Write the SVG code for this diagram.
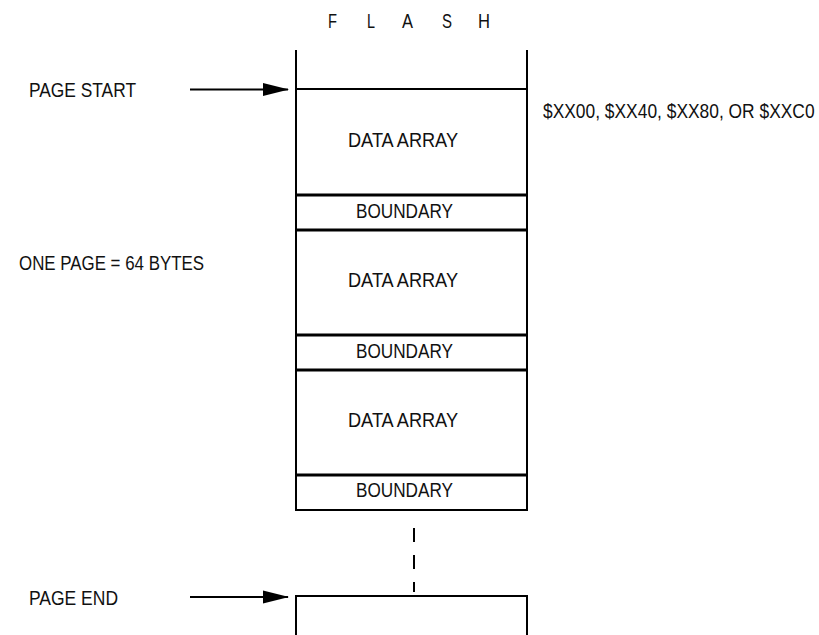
<svg xmlns="http://www.w3.org/2000/svg" width="819" height="635" viewBox="0 0 819 635">
<style>
text{font-family:"Liberation Sans",Arial,sans-serif;font-size:20px;fill:#111}
.ln{stroke:#000;stroke-width:2;fill:none}
.th{stroke:#000;stroke-width:3;fill:none}
</style>
<defs>
<marker id="ah" markerWidth="26" markerHeight="14" refX="25" refY="7" orient="auto" markerUnits="userSpaceOnUse">
<path d="M0,0.5 L26,7 L0,13.5 Z" fill="#000"/>
</marker>
</defs>
<rect width="819" height="635" fill="#fff"/>
<g id="flash-title">
<text x="328" y="28" textLength="9" lengthAdjust="spacingAndGlyphs">F</text>
<text x="367" y="28" textLength="8" lengthAdjust="spacingAndGlyphs">L</text>
<text x="402" y="28" textLength="11" lengthAdjust="spacingAndGlyphs">A</text>
<text x="442" y="28" textLength="10" lengthAdjust="spacingAndGlyphs">S</text>
<text x="478" y="28" textLength="12" lengthAdjust="spacingAndGlyphs">H</text>
</g>
<g id="memory-column">
<line class="ln" x1="296" y1="50" x2="296" y2="511"/>
<line class="ln" x1="527" y1="50" x2="527" y2="511"/>
<line class="ln" x1="296" y1="89" x2="527" y2="89"/>
</g>
<g id="data1"><text x="348" y="147" textLength="110" lengthAdjust="spacingAndGlyphs">DATA ARRAY</text></g>
<g id="boundary1">
<line class="th" x1="296" y1="195" x2="527" y2="195"/>
<line class="th" x1="296" y1="230" x2="527" y2="230"/>
<text x="356" y="218" textLength="97" lengthAdjust="spacingAndGlyphs">BOUNDARY</text>
</g>
<g id="data2"><text x="348" y="287" textLength="110" lengthAdjust="spacingAndGlyphs">DATA ARRAY</text></g>
<g id="boundary2">
<line class="th" x1="296" y1="335" x2="527" y2="335"/>
<line class="th" x1="296" y1="370" x2="527" y2="370"/>
<text x="356" y="358" textLength="97" lengthAdjust="spacingAndGlyphs">BOUNDARY</text>
</g>
<g id="data3"><text x="348" y="427" textLength="110" lengthAdjust="spacingAndGlyphs">DATA ARRAY</text></g>
<g id="boundary3">
<line class="th" x1="296" y1="475" x2="527" y2="475"/>
<line class="ln" x1="296" y1="510" x2="527" y2="510"/>
<text x="356" y="497" textLength="97" lengthAdjust="spacingAndGlyphs">BOUNDARY</text>
</g>
<g id="page-end-box">
<path class="ln" d="M296,635 V596 H527 V635"/>
</g>
<g id="labels">
<text x="29" y="97" textLength="107" lengthAdjust="spacingAndGlyphs">PAGE START</text>
<text x="19" y="270" textLength="185" lengthAdjust="spacingAndGlyphs">ONE PAGE = 64 BYTES</text>
<text x="29" y="605" textLength="89" lengthAdjust="spacingAndGlyphs">PAGE END</text>
<text transform="translate(543,118) scale(1,1.14)" x="0" y="0" style="font-size:17.4px">$XX00, $XX40, $XX80, OR $XXC0</text>
</g>
<g id="connectors">
<line class="ln" x1="190" y1="89.5" x2="288" y2="89.5" marker-end="url(#ah)"/>
<line class="ln" x1="190" y1="597" x2="288" y2="597" marker-end="url(#ah)"/>
<line class="ln" x1="414" y1="528" x2="414" y2="592" stroke-dasharray="14,13"/>
</g>
</svg>
